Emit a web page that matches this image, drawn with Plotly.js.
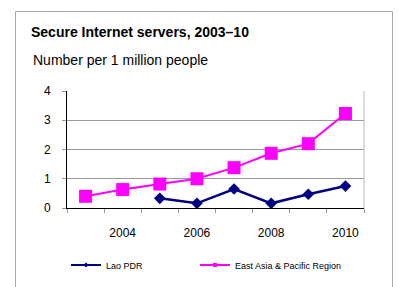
<!DOCTYPE html>
<html>
<head>
<meta charset="utf-8">
<script src="https://cdn.plot.ly/plotly-3.0.1.min.js"></script>
<style>
html,body{margin:0;padding:0;background:#fff;}
#chart{width:398px;height:287px;}
</style>
</head>
<body>
<div id="chart"></div>
<script>
const years = [2003, 2004, 2005, 2006, 2007, 2008, 2009, 2010];
const laoYears = [2005, 2006, 2007, 2008, 2009, 2010];
const laoValues = [0.33, 0.16, 0.65, 0.16, 0.47, 0.75];
const eapValues = [0.40, 0.63, 0.82, 1.00, 1.38, 1.87, 2.20, 3.23];
const xTickVals = [2004, 2006, 2008, 2010];
const xTickText = ['2004', '2006', '2008', '2010'];
const yTickVals = [0, 1, 2, 3, 4];
const seriesNames = ['Lao PDR', 'East Asia & Pacific Region'];

const font = 'Arial, "Liberation Sans", sans-serif';
const navy = '#000080';
const magenta = '#FF00FF';

const traces = [
  {x: years, y: eapValues, type: 'scatter', mode: 'lines+markers', showlegend: false,
   line: {color: magenta, width: 2}, marker: {symbol: 'square', size: 13, color: magenta}},
  {x: laoYears, y: laoValues, type: 'scatter', mode: 'lines+markers', showlegend: false,
   line: {color: navy, width: 2.5}, marker: {symbol: 'diamond', size: 9, color: navy}},
  {x: [null], y: [null], name: seriesNames[0], type: 'scatter', mode: 'lines+markers', legend: 'legend',
   line: {color: navy, width: 2}, marker: {symbol: 'diamond', size: 4, color: navy}},
  {x: [null], y: [null], name: seriesNames[1], type: 'scatter', mode: 'lines+markers', legend: 'legend2',
   line: {color: magenta, width: 2}, marker: {symbol: 'square', size: 4, color: magenta}}
];

const legendCommon = {orientation: 'h', xref: 'container', yref: 'container', xanchor: 'left',
  y: 1 - 265/287, yanchor: 'middle', font: {family: font, size: 9, color: '#000'},
  bgcolor: 'rgba(0,0,0,0)'};

const layout = {
  width: 398, height: 287,
  margin: {l: 67, r: 34, t: 91, b: 79},
  paper_bgcolor: '#ffffff', plot_bgcolor: '#ffffff',
  font: {family: font, color: '#000', size: 12},
  title: {text: '<b>Secure Internet servers, 2003–10</b>', xref: 'container', yref: 'container',
          x: 31/398, xanchor: 'left', y: 1 - 32/287, yanchor: 'middle',
          font: {family: font, size: 14, color: '#000'}},
  annotations: [
    {text: 'Number per 1 million people', xref: 'paper', yref: 'paper',
     x: (31 - 67)/297, xanchor: 'left', y: (208 - 60)/117, yanchor: 'middle',
     showarrow: false, font: {family: font, size: 14, color: '#000'}}
  ],
  xaxis: {
    range: [2002.5, 2010.5], tickvals: xTickVals, ticktext: xTickText,
    ticks: '', showgrid: false, zeroline: false, automargin: false,
    showline: true, linecolor: '#000', linewidth: 1,
    ticklabelstandoff: 14,
    tickfont: {family: font, size: 12, color: '#000'},
    minor: {tick0: 2002.5, dtick: 1, ticks: 'outside', ticklen: 4, tickcolor: '#999', showgrid: false},
    fixedrange: true
  },
  yaxis: {
    range: [0, 4], tickvals: yTickVals, ticks: 'outside', ticklen: 4, tickcolor: '#999',
    showgrid: true, gridcolor: '#999', gridwidth: 1, zeroline: false, automargin: false,
    showline: true, linecolor: '#000', linewidth: 1,
    ticklabelstandoff: 9,
    tickfont: {family: font, size: 12, color: '#000'},
    fixedrange: true
  },
  legend: Object.assign({}, legendCommon, {x: 66/398}),
  legend2: Object.assign({}, legendCommon, {x: 195/398}),
  shapes: [
    {type: 'line', xref: 'paper', yref: 'paper', x0: 1, x1: 1, y0: 0, y1: 1,
     line: {color: '#bbb', width: 1}},
    {type: 'rect', xref: 'paper', yref: 'paper', x0: (15.5 - 67)/297, x1: (392.5 - 67)/297,
     y0: (208 - 300)/117, y1: (208 - 11.5)/117, line: {color: '#aaa', width: 1}, layer: 'below'}
  ],
  showlegend: true
};

Plotly.newPlot('chart', traces, layout, {staticPlot: true, displayModeBar: false});
</script>
</body>
</html>
